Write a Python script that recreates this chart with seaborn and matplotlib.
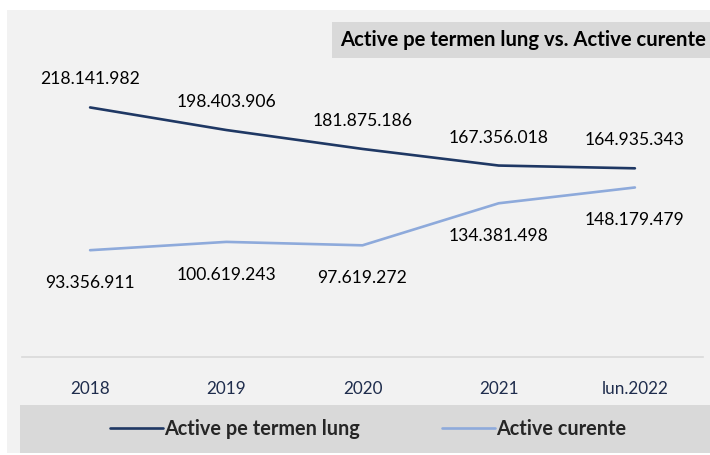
import matplotlib
matplotlib.use("Agg")
import matplotlib.pyplot as plt
import seaborn as sns
import pandas as pd
from matplotlib.patches import Rectangle
from matplotlib.lines import Line2D

categories = ["2018", "2019", "2020", "2021", "lun.2022"]
active_termen_lung = [218141982, 198403906, 181875186, 167356018, 164935343]
active_curente = [93356911, 100619243, 97619272, 134381498, 148179479]
series_names = ["Active pe termen lung", "Active curente"]
title_text = "Active pe termen lung vs. Active curente"

colors = {"Active pe termen lung": "#1f3864", "Active curente": "#8eaadb"}

df = pd.concat([
    pd.DataFrame({"cat": categories, "val": active_termen_lung, "serie": series_names[0]}),
    pd.DataFrame({"cat": categories, "val": active_curente, "serie": series_names[1]}),
])

sns.set_style("white")
plt.rcParams['font.family'] = ['Lato', 'DejaVu Sans']

W, H = 710, 455
fig = plt.figure(figsize=(W / 100, H / 100), dpi=100, facecolor="white")

def fx(px):
    return px / W

def fy(py):
    return 1 - py / H

# gray panel
fig.patches.append(Rectangle((fx(7), fy(453)), 1 - fx(7), fy(10) - fy(453),
                             transform=fig.transFigure, facecolor="#f2f2f2",
                             edgecolor="none", zorder=-2))
# title box
fig.patches.append(Rectangle((fx(332), fy(58)), 1 - fx(332), fy(22) - fy(58),
                             transform=fig.transFigure, facecolor="#d9d9d9",
                             edgecolor="none", zorder=-1))
fig.text(fx(340), fy(40), title_text, fontsize=14.6, fontweight="bold",
         color="black", ha="left", va="center")
# legend band
fig.patches.append(Rectangle((fx(20), fy(453)), 1 - fx(20), fy(405) - fy(453),
                             transform=fig.transFigure, facecolor="#d9d9d9",
                             edgecolor="none", zorder=-1))

ax = fig.add_axes([fx(22), fy(357), fx(703) - fx(22), fy(71) - fy(357)])
ax.set_facecolor("none")
ax.set_zorder(5)

sns.lineplot(data=df, x="cat", y="val", hue="serie", palette=colors, sort=False,
             linewidth=1.9, ax=ax, legend=False)

ax.set_xlim(-0.5, 4.5)
ax.set_ylim(0, 250_000_000)
ax.set_yticks([])
ax.set_xlabel("")
ax.set_ylabel("")
for s in ["top", "left", "right"]:
    ax.spines[s].set_visible(False)
ax.spines["bottom"].set_color("#d9d9d9")
ax.spines["bottom"].set_linewidth(1.2)
ax.tick_params(axis="x", length=0, pad=17, labelsize=12.3, labelcolor="#1f2d4d")

def fmt(v):
    return f"{v:,}".replace(",", ".")

for i, v in enumerate(active_termen_lung):
    ax.annotate(fmt(v), (i, v), xytext=(0, 28), textcoords="offset pixels",
                ha="center", va="center", fontsize=12.6, color="black")
for i, v in enumerate(active_curente):
    ax.annotate(fmt(v), (i, v), xytext=(0, -33), textcoords="offset pixels",
                ha="center", va="center", fontsize=12.6, color="black")

handles = [Line2D([], [], color=colors[n], linewidth=1.9) for n in series_names]
leg = fig.legend(handles, series_names, loc="center", bbox_to_anchor=(fx(368), fy(429)),
                 ncol=2, frameon=False, handlelength=2.7, handletextpad=0.05,
                 columnspacing=4.1, prop={"size": 14.3, "weight": "bold"})

fig.savefig("out.png", dpi=100, facecolor="white")
